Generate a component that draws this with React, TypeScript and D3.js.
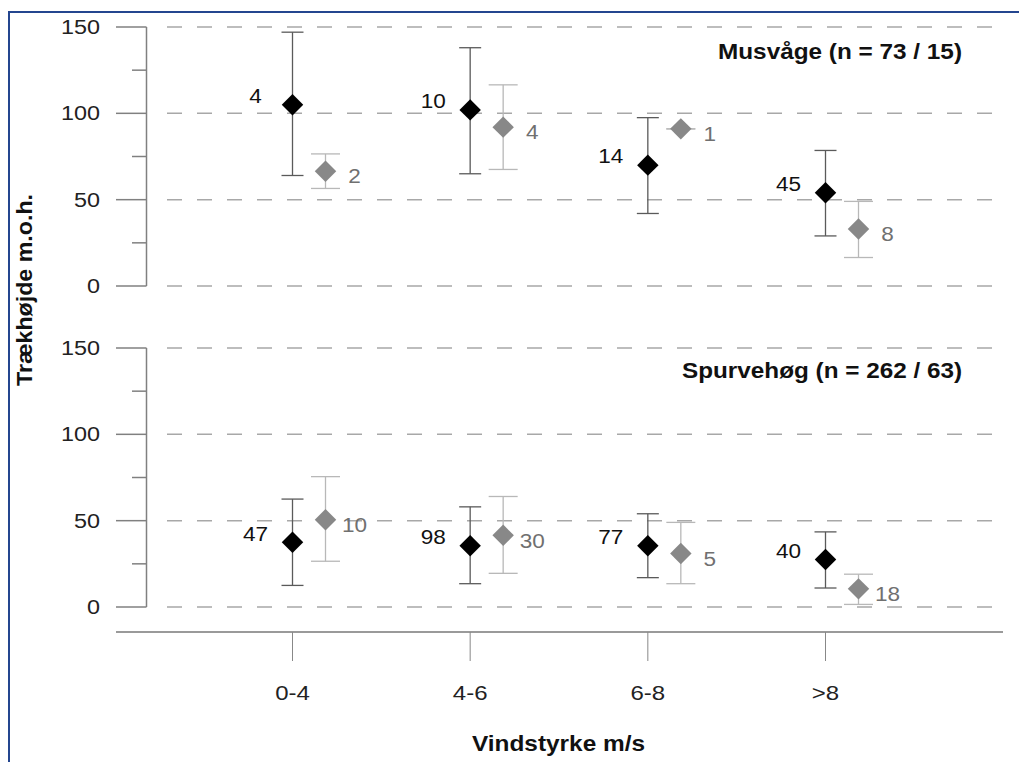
import React from "react";
import * as d3 from "d3";

// ---------- data ----------
const categories = ["0-4", "4-6", "6-8", ">8"];
const yTicks = [0, 50, 100, 150];
const yMinorTicks = [25, 75, 125];

// Musvåge – black series
const musBlackMean = [105, 102, 70, 54];
const musBlackLo = [64, 65, 42, 29];
const musBlackHi = [147, 138, 97.5, 78.5];
const musBlackN = ["4", "10", "14", "45"];
// Musvåge – grey series
const musGreyMean = [66.5, 92, 91, 33];
const musGreyLo = [56.5, 67.5, 91, 16.5];
const musGreyHi = [76.5, 116.5, 91, 49];
const musGreyN = ["2", "4", "1", "8"];

// Spurvehøg – black series
const spuBlackMean = [37.5, 35.5, 35.5, 27.5];
const spuBlackLo = [12.5, 13.5, 17, 11];
const spuBlackHi = [62.5, 58, 54, 43.5];
const spuBlackN = ["47", "98", "77", "40"];
// Spurvehøg – grey series
const spuGreyMean = [50.5, 41.5, 31, 10.5];
const spuGreyLo = [26.5, 19.5, 13.5, 1.5];
const spuGreyHi = [75.5, 64, 49, 19];
const spuGreyN = ["10", "30", "5", "18"];

const panelTitles = ["Musvåge (n = 73 / 15)", "Spurvehøg (n = 262 / 63)"];
const xTitle = "Vindstyrke m/s";
const yTitle = "Trækhøjde m.o.h.";

const FONT = "'Liberation Sans', Arial, Helvetica, sans-serif";

type Series = { mean: number[]; lo: number[]; hi: number[]; n: string[] };

const panels = [
  {
    title: panelTitles[0],
    range: [286, 27],
    titleY: 59,
    titleLen: 244,
    black: { mean: musBlackMean, lo: musBlackLo, hi: musBlackHi, n: musBlackN } as Series,
    grey: { mean: musGreyMean, lo: musGreyLo, hi: musGreyHi, n: musGreyN } as Series,
  },
  {
    title: panelTitles[1],
    range: [607, 348],
    titleY: 378,
    titleLen: 280,
    black: { mean: spuBlackMean, lo: spuBlackLo, hi: spuBlackHi, n: spuBlackN } as Series,
    grey: { mean: spuGreyMean, lo: spuGreyLo, hi: spuGreyHi, n: spuGreyN } as Series,
  },
];

const x = d3.scalePoint<string>().domain(categories).range([292.5, 825.5]);
const GREY_OFFSET = 33;
const diamond = d3.symbol(d3.symbolSquare, 230)() as string;

function SText(props: {
  x: number;
  y: number;
  anchor?: string;
  sx?: number;
  size: number;
  fill?: string;
  weight?: string | number;
  children: React.ReactNode;
}) {
  const { x, y, anchor = "start", sx = 1, size, fill = "#1a1a1a", weight = "normal", children } = props;
  return (
    <text
      transform={`translate(${x},${y}) scale(${sx},1)`}
      textAnchor={anchor}
      fontSize={size}
      fontFamily={FONT}
      fontWeight={weight}
      fill={fill}
    >
      {children}
    </text>
  );
}

function Panel({ p }: { p: (typeof panels)[number] }) {
  const y = d3.scaleLinear().domain([0, 150]).range(p.range);
  const renderSeries = (s: Series, offset: number, isBlack: boolean) =>
    categories.map((c, i) => {
      const cx = (x(c) as number) + offset;
      const cy = y(s.mean[i]);
      const capHalf = isBlack ? 11 : 14.5;
      const barColor = isBlack ? "#5a5a5a" : "#b8b8b8";
      return (
        <g key={c + offset}>
          <line x1={cx} x2={cx} y1={y(s.hi[i])} y2={y(s.lo[i])} stroke={barColor} strokeWidth={1.3} />
          <line x1={cx - capHalf} x2={cx + capHalf} y1={y(s.hi[i])} y2={y(s.hi[i])} stroke={barColor} strokeWidth={1.3} />
          <line x1={cx - capHalf} x2={cx + capHalf} y1={y(s.lo[i])} y2={y(s.lo[i])} stroke={barColor} strokeWidth={1.3} />
          <path d={diamond} transform={`translate(${cx},${cy}) rotate(45)`} fill={isBlack ? "#000" : "#888"} />
          {isBlack ? (
            <SText x={cx - 37} y={cy - 1.7} anchor="middle" sx={1.1} size={20.5} fill="#111">
              {s.n[i]}
            </SText>
          ) : (
            <SText x={cx + 29} y={cy + 12.3} anchor="middle" sx={1.1} size={20.5} fill="#707070">
              {s.n[i]}
            </SText>
          )}
        </g>
      );
    });

  return (
    <g>
      {yTicks.map((t) => (
        <line key={"g" + t} x1={167} x2={1003} y1={y(t)} y2={y(t)} stroke="#a8a8a8" strokeWidth={1.5} strokeDasharray="15,15" />
      ))}
      <line x1={146.5} x2={146.5} y1={y(150)} y2={y(0)} stroke="#808080" strokeWidth={1.5} />
      {yTicks.map((t) => (
        <line key={"t" + t} x1={116} x2={146.5} y1={y(t)} y2={y(t)} stroke="#808080" strokeWidth={1.5} />
      ))}
      {yMinorTicks.map((t) => (
        <line key={"m" + t} x1={132} x2={146.5} y1={y(t)} y2={y(t)} stroke="#808080" strokeWidth={1.5} />
      ))}
      {yTicks.map((t) => (
        <SText key={"l" + t} x={100} y={y(t) + 7} anchor="end" sx={1.2} size={19.5} fill="#222">
          {t}
        </SText>
      ))}
      <text
        x={962}
        y={p.titleY}
        textAnchor="end"
        fontFamily={FONT}
        fontWeight="bold"
        fontSize={22}
        textLength={p.titleLen}
        lengthAdjust="spacingAndGlyphs"
        fill="#111"
      >
        {p.title}
      </text>
      {renderSeries(p.black, 0, true)}
      {renderSeries(p.grey, GREY_OFFSET, false)}
    </g>
  );
}

export default function App() {
  return (
    <svg
      width={1019}
      height={762}
      style={{ position: "absolute", left: 0, top: 0, background: "#fff" }}
    >
      <rect x={0} y={0} width={1019} height={762} fill="#fff" />
      <rect x={9} y={12} width={1100} height={1000} fill="none" stroke="#24468f" strokeWidth={2} />
      {panels.map((p) => (
        <Panel key={p.title} p={p} />
      ))}
      {/* x axis */}
      <line x1={116} x2={1003} y1={632} y2={632} stroke="#9a9a9a" strokeWidth={2} />
      {categories.map((c) => (
        <g key={c}>
          <line x1={x(c) as number} x2={x(c) as number} y1={632} y2={661} stroke="#888" strokeWidth={1} />
          <SText x={x(c) as number} y={700} anchor="middle" sx={1.2} size={20} fill="#222">
            {c}
          </SText>
        </g>
      ))}
      <text
        x={558.5}
        y={751}
        textAnchor="middle"
        fontFamily={FONT}
        fontWeight="bold"
        fontSize={22}
        textLength={173}
        lengthAdjust="spacingAndGlyphs"
        fill="#111"
      >
        {xTitle}
      </text>
      <text
        transform="translate(32,290) rotate(-90)"
        textAnchor="middle"
        fontFamily={FONT}
        fontWeight="bold"
        fontSize={22}
        textLength={192}
        lengthAdjust="spacingAndGlyphs"
        fill="#111"
      >
        {yTitle}
      </text>
    </svg>
  );
}
